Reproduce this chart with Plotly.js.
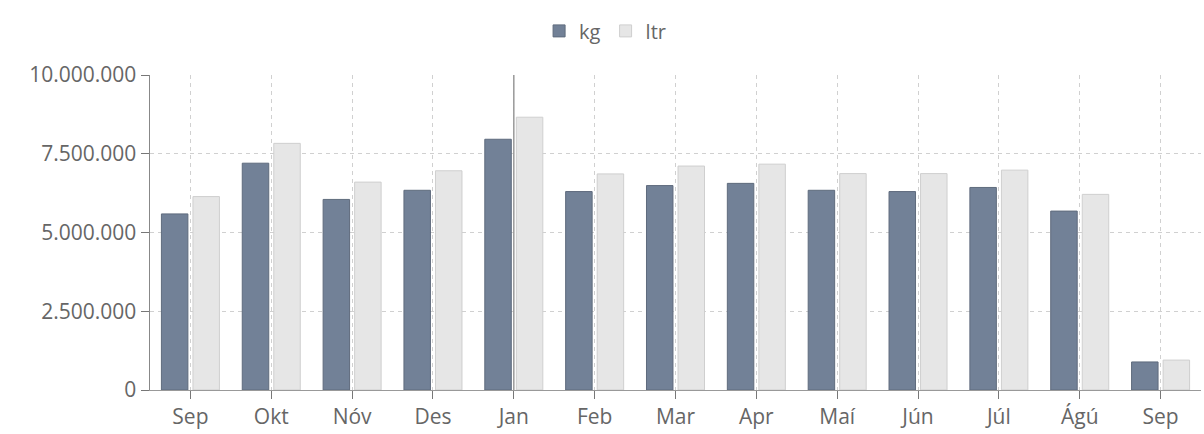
<!DOCTYPE html>
<html>
<head>
<meta charset="utf-8">
<script src="https://cdn.plot.ly/plotly-3.0.1.min.js"></script>
<style>html,body{margin:0;padding:0;background:#fff;}#chart{width:1204px;height:434px;}</style>
</head>
<body>
<div id="chart"></div>
<script>
const months = ["Sep","Okt","Nóv","Des","Jan","Feb","Mar","Apr","Maí","Jún","Júl","Ágú","Sep "];
const kg  = [5590000, 7200000, 6050000, 6340000, 7960000, 6300000, 6490000, 6560000, 6340000, 6300000, 6430000, 5680000, 890000];
const ltr = [6140000, 7830000, 6600000, 6960000, 8660000, 6860000, 7110000, 7170000, 6870000, 6870000, 6980000, 6210000, 950000];
const yTicks = [0, 2500000, 5000000, 7500000, 10000000];
const markerMonth = "Jan";

const font = {family: "Open Sans, Noto Sans, sans-serif", color: "#666", size: 21};

const data = [
  {type: "bar", name: "kg", x: months, y: kg,
   marker: {color: "#728197", line: {color: "#5f6b7d", width: 1}}},
  {type: "bar", name: "ltr", x: months, y: ltr,
   marker: {color: "#e6e6e6", line: {color: "#cfcfcf", width: 1}}}
];

const layout = {
  width: 1204, height: 434,
  margin: {l: 150, r: 3, t: 75, b: 44, autoexpand: false},
  paper_bgcolor: "#fff", plot_bgcolor: "#fff",
  font: font,
  separators: ",.",
  barmode: "group", bargap: 0.22, bargroupgap: 0.16,
  showlegend: true,
  legend: {orientation: "h", x: 0.433, xanchor: "center", y: 1.14, yanchor: "middle",
           font: {family: font.family, color: "#666", size: 20}, itemclick: false},
  xaxis: {type: "category", tickmode: "array", tickvals: months, ticktext: months.map(s => s.trim()),
          tickangle: 0,
          showgrid: true, gridcolor: "#d0d0d0", griddash: "4px,4px", gridwidth: 1,
          ticks: "outside", ticklen: 8, tickcolor: "#777", tickfont: font,
          showline: true, linecolor: "#999", linewidth: 1, zeroline: false},
  yaxis: {range: [0, 10000000], tickvals: yTicks, tickformat: ",d",
          showgrid: true, gridcolor: "#d0d0d0", griddash: "4px,4px", gridwidth: 1,
          ticks: "outside", ticklen: 8, tickcolor: "#777", tickfont: font,
          showline: true, linecolor: "#888", linewidth: 1.5, zeroline: false},
  shapes: [{type: "line", xref: "x", yref: "paper", x0: markerMonth, x1: markerMonth, y0: 0, y1: 1,
            line: {color: "#999", width: 1.5}}]
};

Plotly.newPlot("chart", data, layout, {displayModeBar: false, staticPlot: true});
</script>
</body>
</html>
